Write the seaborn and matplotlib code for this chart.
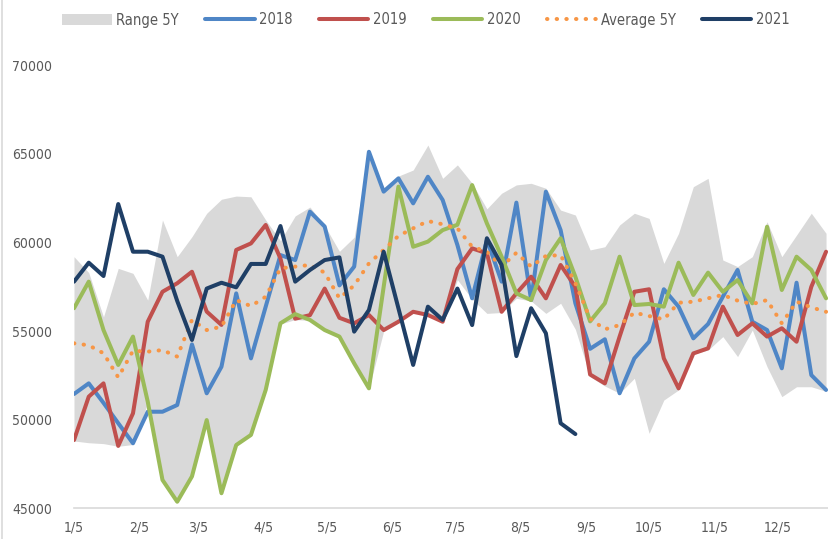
import pandas as pd
import matplotlib
matplotlib.use("Agg")
import matplotlib.pyplot as plt
from matplotlib import font_manager
from matplotlib.lines import Line2D
from matplotlib.patches import Patch
import seaborn as sns

# weekly points, Jan 5 onwards
weeks = pd.date_range("2021-01-05", periods=52, freq="7D")
tick_dates = [pd.Timestamp(2021, m, 5) for m in range(1, 13)]

range_upper = [59200, 58300, 55800, 58540, 58260, 56750, 61270, 59200, 60330, 61650, 62440, 62620, 62580,
               61270, 60100, 61500, 62000, 60950, 59500, 60300, 65150, 63100, 63750, 64090, 65500, 63620,
               64380, 63340, 61900, 62780, 63250, 63340, 63060, 61830, 61550, 59580, 59760, 60990, 61650,
               61360, 58820, 60520, 63150, 63620, 59010, 58640, 59200, 61170, 59200, 60420, 61650, 60520]
range_lower = [48800, 48700, 48650, 48500, 48600, 50950, 46550, 45350, 46750, 49950, 45800, 48550, 49100,
               51650, 55400, 55650, 55600, 55000, 54650, 53150, 51750, 55000, 55500, 56050, 55850, 55500,
               57900, 56800, 56000, 56050, 56850, 56700, 56000, 56570, 55100, 52430, 51900, 51490, 52340,
               49230, 51110, 51680, 53700, 53930, 54690, 53560, 55060, 52990, 51300, 51860, 51860, 51600]
y2018 = [51450, 52050, 50950, 49800, 48670, 50450, 50450, 50830, 54250, 51490, 52990, 57130, 53460,
         56380, 59290, 59010, 61740, 60900, 57580, 58640, 65120, 62870, 63620, 62210, 63710, 62400,
         59860, 56850, 60140, 57790, 62250, 56750, 62870, 60700, 56570, 54000, 54540, 51490, 53460,
         54400, 57360, 56380, 54590, 55400, 56940, 58450, 55530, 55060, 52900, 57730, 52520, 51680]
y2019 = [48850, 51300, 52050, 48520, 50360, 55530, 57220, 57700, 58350, 56100, 55350, 59580, 59950,
         60990, 59100, 55700, 55900, 57400, 55750, 55440, 55910, 55060, 55530, 56090, 55910, 55530,
         58500, 59670, 59390, 56090, 57130, 58070, 56850, 58730, 57500, 52550, 52050, 54690, 57220,
         57360, 53460, 51770, 53740, 54030, 56380, 54780, 55440, 54690, 55160, 54400, 57500, 59480]
y2020 = [56290, 57790, 55060, 53090, 54690, 51020, 46600, 45370, 46800, 49980, 45850, 48570, 49140,
         51680, 55440, 55960, 55630, 55060, 54690, 53180, 51770, 57500, 63150, 59760, 60050, 60700,
         61000, 63240, 61080, 59200, 57130, 56750, 59010, 60240, 58070, 55550, 56570, 59200, 56470,
         56530, 56380, 58860, 57040, 58300, 57220, 57880, 56570, 60890, 57320, 59200, 58450, 56850]
avg_5y = [54310, 54200, 53750, 52390, 53890, 53840, 53930, 53560, 55630, 55060, 55250, 56750, 56410,
          56940, 58540, 58640, 58730, 58300, 56850, 57580, 58820, 59580, 60370, 60800, 61210, 61030,
          60800, 59760, 59480, 58640, 59420, 58640, 59240, 59290, 57700, 55700, 55100, 55340, 56040,
          55850, 55660, 56600, 56660, 56850, 57040, 56720, 56530, 56750, 55440, 56660, 56340, 56090]
y2021 = [57790, 58860, 58110, 62170, 59480, 59480, 59200, 56700, 54500, 57400, 57730, 57470, 58790,
         58790, 60930, 57790, 58450, 59010, 59160, 54970, 56190, 59480, 56290, 53090, 56380, 55630,
         57400, 55340, 60240, 58730, 53590, 56290, 54880, 49800, 49190]

c_range = "#d9d9d9"
c2018 = "#4f86c6"
c2019 = "#c0504d"
c2020 = "#9bbb59"
c_avg = "#f79646"
c2021 = "#1f3f66"
txt = "#595959"

sns.set_style("white")
names = {f.name for f in font_manager.fontManager.ttflist}
if "Liberation Sans Narrow" in names:
    plt.rcParams["font.family"] = ["Liberation Sans Narrow", "DejaVu Sans"]
    fs = 12.5
else:
    plt.rcParams["font.family"] = ["DejaVu Sans"]
    plt.rcParams["font.stretch"] = "condensed"
    fs = 10

fig = plt.figure(figsize=(8.29, 5.39), dpi=100)
ax = fig.add_axes([74 / 829, 1 - 508.3 / 539, 1 - 74 / 829, 443 / 539])

ax.fill_between(weeks, range_lower, range_upper, color=c_range, linewidth=0, zorder=1)
lw = 2.9
dots = (0, (0.1, 2.3))
sns.lineplot(x=weeks, y=y2018, ax=ax, color=c2018, linewidth=lw, zorder=2)
sns.lineplot(x=weeks, y=y2019, ax=ax, color=c2019, linewidth=lw, zorder=3)
sns.lineplot(x=weeks, y=y2020, ax=ax, color=c2020, linewidth=lw, zorder=4)
sns.lineplot(x=weeks, y=avg_5y, ax=ax, color=c_avg, linewidth=lw, zorder=5,
             linestyle=dots, dash_capstyle="round")
sns.lineplot(x=weeks[:len(y2021)], y=y2021, ax=ax, color=c2021, linewidth=lw, zorder=6)

ax.set_ylim(45000, 70000)
ax.set_yticks([45000, 50000, 55000, 60000, 65000, 70000])
ax.set_xlim(weeks[0], weeks[0] + pd.Timedelta(days=358.4))
ax.set_xticks(tick_dates)
ax.set_xticklabels([f"{d.month}/{d.day}" for d in tick_dates])

for s in ["top", "right", "left"]:
    ax.spines[s].set_visible(False)
ax.spines["bottom"].set_color(c_range)
ax.spines["bottom"].set_linewidth(1.2)
ax.tick_params(axis="x", direction="out", length=4, width=1.2, color=c_range,
               labelcolor=txt, labelsize=fs, pad=5)
ax.tick_params(axis="y", length=0, labelcolor=txt, labelsize=fs, pad=16)
ax.set_xlabel("")
ax.set_ylabel("")
ax.grid(False)

handles = [
    Patch(facecolor=c_range, edgecolor="none"),
    Line2D([], [], color=c2018, linewidth=lw),
    Line2D([], [], color=c2019, linewidth=lw),
    Line2D([], [], color=c2020, linewidth=lw),
    Line2D([], [], color=c_avg, linewidth=lw, linestyle=dots, dash_capstyle="round"),
    Line2D([], [], color=c2021, linewidth=lw),
]
labels = ["Range 5Y", "2018", "2019", "2020", "Average 5Y", "2021"]
leg = fig.legend(handles, labels, loc="center", bbox_to_anchor=(426 / 829, 1 - 20 / 539), ncol=6,
                 frameon=False, fontsize=fs + 0.5, handlelength=3.4, handletextpad=0.3,
                 columnspacing=1.8)
for t in leg.get_texts():
    t.set_color(txt)

# thin border line at the left edge of the picture
fig.add_artist(Line2D([2.5 / 829, 2.5 / 829], [0, 1], color="#d9d9d9", linewidth=1.2))

plt.savefig("out.png", dpi=100)
plt.close()
